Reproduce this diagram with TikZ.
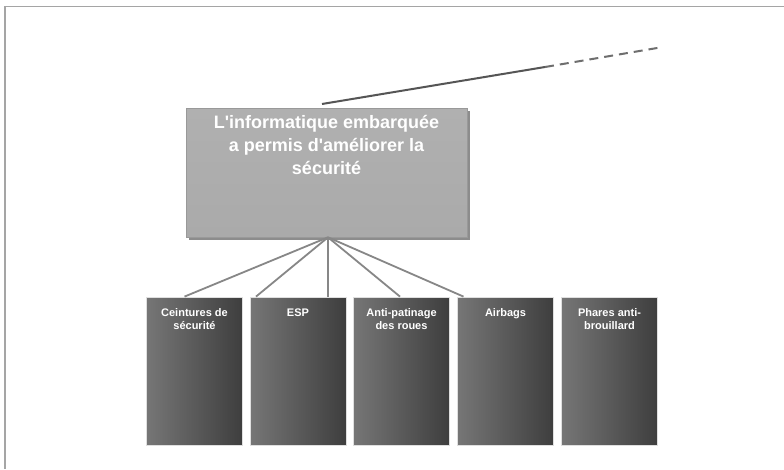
\documentclass[tikz,border=0pt]{standalone}
\usepackage{fontspec}
\setmainfont{Liberation Sans}
\usetikzlibrary{calc}
\definecolor{framegray}{RGB}{165,165,165}
\definecolor{mainfill}{RGB}{170,170,170}
\definecolor{mainfilltop}{RGB}{176,176,176}
\definecolor{mainshadow}{RGB}{140,140,140}
\definecolor{boxlight}{RGB}{118,118,118}
\definecolor{boxdark}{RGB}{62,62,62}
\definecolor{linkgray}{RGB}{135,135,135}
\definecolor{topline}{RGB}{85,85,85}
\begin{document}
\begin{tikzpicture}[x=1pt,y=-1pt,
  mainbox/.style={rectangle, minimum width=281pt, minimum height=129pt, inner sep=0pt,
    top color=mainfilltop, bottom color=mainfill, draw=mainfill!90!black, line width=0.6pt},
  leafbox/.style={rectangle, minimum width=96pt, minimum height=148pt, inner sep=0pt,
    left color=boxlight, right color=boxdark,
    draw=white!75!gray, line width=0.8pt},
  maintext/.style={anchor=north, text=white, align=center, inner sep=0pt,
    font=\fontsize{18}{23}\selectfont\bfseries},
  leaftext/.style={anchor=north, text=white, align=center, inner sep=0pt,
    font=\fontsize{11}{12.5}\selectfont\bfseries},
  link/.style={draw=linkgray, line width=1.8pt},
  framebar/.style={draw=framegray, line width=1.5pt}
]
\useasboundingbox (0,0) rectangle (784,469);
\fill[white] (0,0) rectangle (784,469);
% frame
\coordinate (ftl) at (5,6.5);
\coordinate (ftr) at (784,6.5);
\coordinate (fbl) at (5,469);
\draw[framebar] (ftr) -- (ftl) -- (fbl);

% main box with shadow
\fill[mainshadow] (189,111) rectangle (470,240);
\node[mainbox] (main) at (326.5,172.5) {};
\node[maintext] (mt) at ([yshift=-7pt]main.north) {L\textquotesingle informatique embarquée\\a permis d\textquotesingle améliorer la\\sécurité};

% leaf boxes
\node[leafbox] (b1) at (194.5,371) {};
\node[leafbox] (b2) at (298,371) {};
\node[leafbox] (b3) at (401.5,371) {};
\node[leafbox] (b4) at (505.5,371) {};
\node[leafbox] (b5) at (609.5,371) {};
\node[leaftext] (t1) at ([yshift=-12pt]b1.north) {Ceintures de\\sécurité};
\node[leaftext] (t2) at ([yshift=-12pt]b2.north) {ESP};
\node[leaftext] (t3) at ([yshift=-12pt]b3.north) {Anti-patinage\\des roues};
\node[leaftext] (t4) at ([yshift=-12pt]b4.north) {Airbags};
\node[leaftext] (t5) at ([yshift=-12pt]b5.north) {Phares anti-\\brouillard};

% connectors
\coordinate (hub) at ([xshift=1.5pt]main.south);
\draw[link] (hub) -- ([xshift=-10pt]b1.north);
\draw[link] (hub) -- ([xshift=-42pt]b2.north);
\draw[link] (hub) -- ([xshift=30pt]b2.north);
\draw[link] (hub) -- ([xshift=-1.5pt]b3.north);
\draw[link] (hub) -- ([xshift=-42pt]b4.north);

% top line
\coordinate (ls) at (322,104);
\coordinate (lm) at (545,67);
\coordinate (le) at (663,47);
\draw[draw=topline, line width=2pt] (ls) -- (lm);
\draw[draw=topline!85!white, line width=2pt, dash pattern=on 9pt off 6pt] (lm) -- (le);
\end{tikzpicture}
\end{document}
